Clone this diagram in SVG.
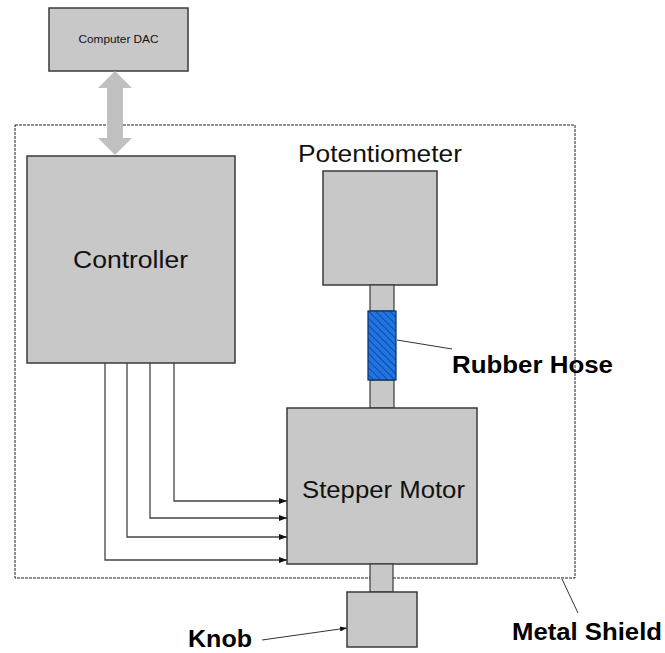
<svg xmlns="http://www.w3.org/2000/svg" width="665" height="653" viewBox="0 0 665 653">
<style>
.box{fill:#c8c8c8;stroke:#3a3a3a;stroke-width:1.5}
.shaft{fill:#c8c8c8;stroke:#3a3a3a;stroke-width:1.2}
.t{font-family:"Liberation Sans",Arial,sans-serif;fill:#111}
.b{font-family:"Liberation Sans",Arial,sans-serif;font-weight:bold;fill:#000}
.wire{fill:none;stroke:#444;stroke-width:1.3}
.lead{fill:none;stroke:#333;stroke-width:1}
</style>
<defs>
<marker id="ah" markerWidth="8" markerHeight="6" refX="8" refY="3" orient="auto" markerUnits="userSpaceOnUse">
<path d="M0,0 L8,3 L0,6 Z" fill="#111"/>
</marker>
<marker id="ahs" markerWidth="7" markerHeight="5" refX="7" refY="2.5" orient="auto" markerUnits="userSpaceOnUse">
<path d="M0,0 L7,2.5 L0,5 Z" fill="#111"/>
</marker>
<pattern id="hatch" width="5" height="5" patternUnits="userSpaceOnUse" patternTransform="rotate(-45)">
<rect width="5" height="5" fill="#1f74e6"/>
<line x1="0" y1="0" x2="0" y2="5" stroke="#0d2f66" stroke-width="1.2"/>
</pattern>
</defs>

<g id="metal-shield">
<rect x="15" y="125" width="560" height="453" fill="none" stroke="#222" stroke-width="1" stroke-dasharray="3,1"/>
</g>

<g id="computer-dac">
<rect class="box" x="49" y="8" width="139" height="63"/>
<text class="t" x="118.5" y="43" font-size="11" text-anchor="middle" textLength="80" lengthAdjust="spacingAndGlyphs">Computer DAC</text>
</g>

<g id="bus-arrow">
<path d="M115,71 L132,88 L123,88 L123,138 L132,138 L115,155 L98,138 L107,138 L107,88 L98,88 Z" fill="#c0c0c0"/>
</g>

<g id="controller">
<rect class="box" x="27" y="156" width="208" height="207"/>
<text class="t" x="130.5" y="268" font-size="23" text-anchor="middle" textLength="115" lengthAdjust="spacingAndGlyphs">Controller</text>
</g>

<g id="potentiometer">
<rect class="box" x="323" y="171" width="114" height="114"/>
<text class="t" x="380" y="162" font-size="24" text-anchor="middle" textLength="164" lengthAdjust="spacingAndGlyphs">Potentiometer</text>
</g>

<g id="upper-shaft">
<rect class="shaft" x="370" y="285" width="24" height="26"/>
<rect class="shaft" x="370" y="380" width="24" height="28"/>
</g>

<g id="rubber-hose">
<rect x="368" y="311" width="28" height="69" fill="url(#hatch)" stroke="#0d2f66" stroke-width="1.2"/>
<text class="b" x="452" y="373" font-size="23" textLength="161" lengthAdjust="spacingAndGlyphs">Rubber Hose</text>
</g>

<g id="stepper-motor">
<rect class="box" x="287" y="408" width="190" height="156"/>
<text class="t" x="383.5" y="498" font-size="24" text-anchor="middle" textLength="163" lengthAdjust="spacingAndGlyphs">Stepper Motor</text>
</g>

<g id="lower-shaft">
<rect class="shaft" x="370" y="564" width="23" height="28"/>
</g>

<g id="knob">
<rect class="box" x="347" y="592" width="70" height="55"/>
<text class="b" x="188" y="647" font-size="23" textLength="64" lengthAdjust="spacingAndGlyphs">Knob</text>
</g>

<g id="metal-shield-label">
<text class="b" x="512" y="640" font-size="23" textLength="150" lengthAdjust="spacingAndGlyphs">Metal Shield</text>
</g>

<g id="connectors">
<path class="wire" d="M174,363 L174,501 L287,501" marker-end="url(#ah)"/>
<path class="wire" d="M150,363 L150,518 L287,518" marker-end="url(#ah)"/>
<path class="wire" d="M127,363 L127,537 L287,537" marker-end="url(#ah)"/>
<path class="wire" d="M105,363 L105,560 L287,560" marker-end="url(#ah)"/>
<path class="lead" d="M397,340 L452,349"/>
<path class="lead" d="M562,579 L578,613"/>
<path class="lead" d="M262,640 L347,628" marker-end="url(#ahs)"/>
</g>
</svg>
